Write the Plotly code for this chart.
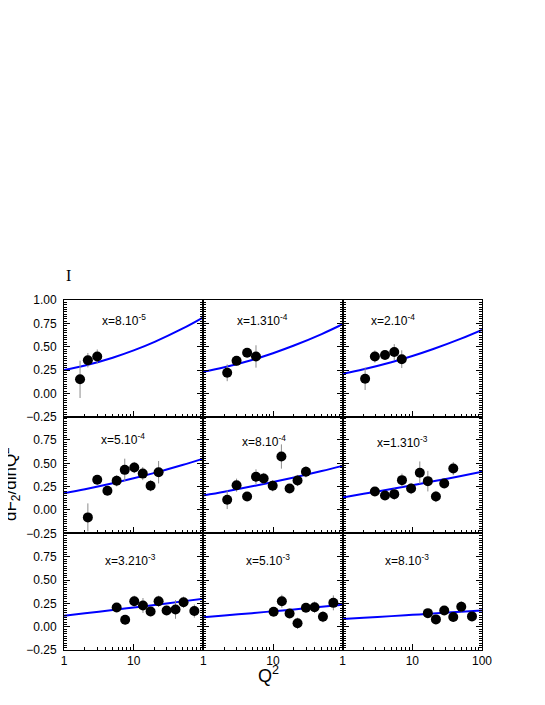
import plotly.graph_objects as go
from plotly.subplots import make_subplots

# Panel labels (Bjorken x bins), row by row
panel_labels = ["x=8.10<sup>-5</sup>", "x=1.310<sup>-4</sup>", "x=2.10<sup>-4</sup>",
                "x=5.10<sup>-4</sup>", "x=8.10<sup>-4</sup>", "x=1.310<sup>-3</sup>",
                "x=3.210<sup>-3</sup>", "x=5.10<sup>-3</sup>", "x=8.10<sup>-3</sup>"]

# Measured points: Q2, dF2/dlnQ2 and error, one list per panel
q2_pts = [
    [1.7, 2.2, 3.0],
    [2.2, 3.0, 4.25, 5.7],
    [2.1, 2.9, 4.05, 5.5, 7.05],
    [2.2, 3.0, 4.2, 5.7, 7.45, 10.2, 13.5, 17.5, 22.8],
    [2.2, 3.0, 4.25, 5.7, 7.35, 9.9, 13.2, 17.3, 22.5, 29.7],
    [2.9, 4.05, 5.5, 7.1, 9.6, 12.8, 16.7, 21.8, 28.7, 38.7],
    [5.7, 7.55, 10.2, 13.6, 17.5, 22.8, 29.7, 39.9, 52.0, 74.3],
    [10.2, 13.4, 17.3, 22.5, 29.7, 39.5, 52.1, 73.5],
    [16.7, 21.8, 28.7, 38.7, 50.4, 71.8],
]
slope_pts = [
    [0.15, 0.355, 0.395],
    [0.22, 0.348, 0.435, 0.395],
    [0.156, 0.395, 0.41, 0.442, 0.366],
    [-0.079, 0.324, 0.206, 0.313, 0.43, 0.455, 0.39, 0.26, 0.405],
    [0.11, 0.266, 0.145, 0.356, 0.338, 0.26, 0.573, 0.23, 0.316, 0.41],
    [0.199, 0.156, 0.17, 0.32, 0.23, 0.40, 0.309, 0.145, 0.284, 0.444],
    [0.206, 0.075, 0.272, 0.227, 0.163, 0.272, 0.174, 0.184, 0.262, 0.167],
    [0.16, 0.272, 0.142, 0.036, 0.202, 0.209, 0.107, 0.255],
    [0.145, 0.078, 0.174, 0.103, 0.213, 0.11],
]
slope_err = [
    [0.2, 0.077, 0.075],
    [0.09, 0.05, 0.045, 0.12],
    [0.12, 0.065, 0.04, 0.085, 0.095],
    [0.15, 0.05, 0.03, 0.06, 0.12, 0.06, 0.07, 0.06, 0.12],
    [0.1, 0.07, 0.04, 0.08, 0.06, 0.06, 0.13, 0.04, 0.06, 0.06],
    [0.03, 0.04, 0.06, 0.07, 0.06, 0.12, 0.11, 0.06, 0.04, 0.07],
    [0.03, 0.05, 0.06, 0.08, 0.05, 0.06, 0.05, 0.10, 0.06, 0.07],
    [0.03, 0.07, 0.05, 0.06, 0.04, 0.06, 0.06, 0.08],
    [0.03, 0.05, 0.04, 0.05, 0.06, 0.05],
]

# QCD fit curves
q2_curve = [1, 2, 5, 10, 20, 50, 100]
slope_curve = [
    [0.25, 0.298, 0.382, 0.46, 0.552, 0.693, 0.815],
    [0.23, 0.279, 0.358, 0.43, 0.512, 0.635, 0.74],
    [0.21, 0.258, 0.333, 0.40, 0.475, 0.586, 0.68],
    [0.18, 0.223, 0.287, 0.34, 0.398, 0.482, 0.55],
    [0.156, 0.196, 0.254, 0.30, 0.349, 0.418, 0.473],
    [0.135, 0.173, 0.224, 0.265, 0.307, 0.365, 0.41],
    [0.118, 0.143, 0.178, 0.205, 0.233, 0.271, 0.30],
    [0.10, 0.119, 0.145, 0.165, 0.185, 0.213, 0.234],
    [0.082, 0.095, 0.113, 0.127, 0.141, 0.160, 0.174],
]

# label position inside each panel (axis domain fractions)
label_pos = [(0.26, 0.83), (0.23, 0.83), (0.19, 0.83),
             (0.25, 0.81), (0.26, 0.79), (0.235, 0.78),
             (0.28, 0.77), (0.29, 0.77), (0.29, 0.77)]

y_major = [1.0, 0.75, 0.5, 0.25, 0.0, -0.25]
y_text = ["1.00", "0.75", "0.50", "0.25", "0.00", "\u22120.25"]
x_minor = [2, 3, 4, 5, 6, 7, 8, 9, 20, 30, 40, 50, 60, 70, 80, 90]

FONT = "Liberation Sans, Arial, Helvetica, sans-serif"

fig = make_subplots(rows=3, cols=3, horizontal_spacing=0, vertical_spacing=0)

for i in range(9):
    r = i // 3 + 1
    c = i % 3 + 1
    # fit curve
    fig.add_trace(go.Scatter(x=q2_curve, y=slope_curve[i], mode="lines", line_shape="spline",
                             line=dict(color="#0000ff", width=2), showlegend=False,
                             hoverinfo="skip"), row=r, col=c)
    # data with error bars
    fig.add_trace(go.Scatter(x=q2_pts[i], y=slope_pts[i], mode="markers",
                             marker=dict(color="black", size=10),
                             error_y=dict(type="data", array=slope_err[i], color="#8c8c8c",
                                          thickness=1, width=0),
                             showlegend=False), row=r, col=c)

    idx = "" if i == 0 else str(i + 1)
    lx, ly = label_pos[i]
    fig.add_annotation(text=panel_labels[i], xref="x" + idx + " domain", yref="y" + idx + " domain",
                       x=lx, y=ly, xanchor="left", yanchor="middle", showarrow=False,
                       font=dict(family=FONT, size=12, color="black"))

    # x axis: log scale 1..100, labels only on bottom row
    if c == 3:
        xt = [1, 10, 100]
        xl = ["1", "10", "100"]
    else:
        xt = [1, 10]
        xl = ["1", "10"]
    fig.update_xaxes(type="log", range=[0, 2], tickvals=xt, ticktext=xl,
                     showticklabels=(r == 3), ticks="inside", ticklen=6, tickcolor="black",
                     showline=True, linecolor="black", linewidth=1, mirror=True,
                     showgrid=False, zeroline=False,
                     minor=dict(tickvals=x_minor, ticks="inside", ticklen=3, tickcolor="black",
                                showgrid=False),
                     tickfont=dict(family=FONT, size=12, color="black"),
                     row=r, col=c)

    # y axis: labels only on left column, top label dropped below first row
    if r == 1:
        yt, yl = y_major, y_text
    else:
        yt, yl = y_major[1:], y_text[1:]
    fig.update_yaxes(range=[-0.25, 1.0], tickvals=yt, ticktext=yl,
                     showticklabels=(c == 1), ticks="inside", ticklen=6, tickcolor="black",
                     showline=True, linecolor="black", linewidth=1, mirror="ticks",
                     showgrid=False, zeroline=False, ticklabelstandoff=4,
                     minor=dict(dtick=0.025, ticks="inside", ticklen=3, tickcolor="black",
                                showgrid=False),
                     tickfont=dict(family=FONT, size=12, color="black"),
                     row=r, col=c)

# corner mark and axis titles (positions in reference pixels, plot area 64..482 x 300..650)
fig.add_annotation(text="I", xref="paper", yref="paper", x=(68 - 64) / 418, y=(650 - 275) / 350,
                   xanchor="center", yanchor="middle", showarrow=False,
                   font=dict(family="Liberation Serif, Times New Roman, serif", size=16, color="black"))
fig.add_annotation(text="Q<sup>2</sup>", xref="paper", yref="paper", x=(268 - 64) / 418,
                   y=-(674 - 650) / 350, xanchor="center", yanchor="middle", showarrow=False,
                   font=dict(family=FONT, size=18, color="black"))
fig.add_annotation(text="dF<sub>2</sub>/dlnQ<sup>2</sup>", xref="paper", yref="paper",
                   x=(10 - 64) / 418, y=(650 - 484) / 350, textangle=-90,
                   xanchor="center", yanchor="middle", showarrow=False,
                   font=dict(family=FONT, size=17, color="black"))

# page body adds an 8px offset, so margins are shifted to keep the plot at 64..482 x 300..650
fig.update_layout(width=545, height=705, plot_bgcolor="white", paper_bgcolor="white",
                  margin=dict(l=56, r=71, t=292, b=63))

fig.write_html("out.html")
